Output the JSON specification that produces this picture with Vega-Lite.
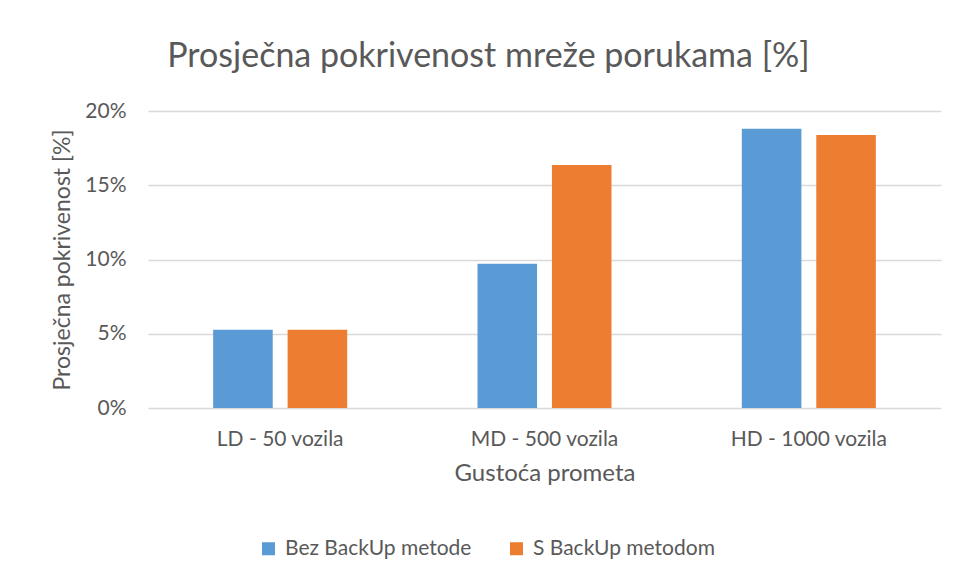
{
  "$schema": "https://vega.github.io/schema/vega-lite/v6.json",
  "width": 793,
  "height": 297,
  "autosize": {"type": "none"},
  "padding": {"left": 148, "top": 111, "right": 16, "bottom": 175},
  "background": "white",
  "title": {
    "text": "Prosječna pokrivenost mreže porukama [%]",
    "font": "Lato",
    "fontSize": 34,
    "fontWeight": "normal",
    "color": "#595959",
    "anchor": "middle",
    "frame": "group",
    "dx": -56,
    "offset": 26
  },
  "data": {
    "values": [
      {"gustoca": "LD - 50 vozila", "metoda": "Bez BackUp metode", "pokrivenost": 0.0527},
      {"gustoca": "LD - 50 vozila", "metoda": "S BackUp metodom", "pokrivenost": 0.0527},
      {"gustoca": "MD - 500 vozila", "metoda": "Bez BackUp metode", "pokrivenost": 0.0971},
      {"gustoca": "MD - 500 vozila", "metoda": "S BackUp metodom", "pokrivenost": 0.1637},
      {"gustoca": "HD - 1000 vozila", "metoda": "Bez BackUp metode", "pokrivenost": 0.188},
      {"gustoca": "HD - 1000 vozila", "metoda": "S BackUp metodom", "pokrivenost": 0.1839}
    ]
  },
  "mark": {"type": "bar"},
  "encoding": {
    "x": {
      "field": "gustoca",
      "type": "nominal",
      "sort": ["LD - 50 vozila", "MD - 500 vozila", "HD - 1000 vozila"],
      "scale": {"paddingInner": 0.493, "paddingOuter": 0.2465},
      "axis": {
        "title": "Gustoća prometa",
        "labelAngle": 0,
        "labelFont": "Lato",
        "labelFontSize": 21,
        "labelColor": "#595959",
        "labelPadding": 20,
        "ticks": false,
        "domain": false,
        "titleFont": "Lato",
        "titleFontSize": 24,
        "titleFontWeight": "normal",
        "titleColor": "#595959",
        "titlePadding": 12
      }
    },
    "xOffset": {
      "field": "metoda",
      "type": "nominal",
      "scale": {"paddingInner": 0.2, "paddingOuter": 0}
    },
    "y": {
      "field": "pokrivenost",
      "type": "quantitative",
      "scale": {"domain": [0, 0.2]},
      "axis": {
        "title": "Prosječna pokrivenost [%]",
        "format": ".0%",
        "values": [0, 0.05, 0.1, 0.15, 0.2],
        "labelFont": "Lato",
        "labelFontSize": 21,
        "labelColor": "#595959",
        "labelPadding": 22,
        "ticks": false,
        "domain": false,
        "grid": true,
        "gridColor": "#D9D9D9",
        "gridWidth": 1.5,
        "titleFont": "Lato",
        "titleFontSize": 23,
        "titleFontWeight": "normal",
        "titleColor": "#595959",
        "titlePadding": 10
      }
    },
    "color": {
      "field": "metoda",
      "type": "nominal",
      "scale": {"domain": ["Bez BackUp metode", "S BackUp metodom"], "range": ["#5B9BD5", "#ED7D31"]},
      "legend": {
        "title": null,
        "orient": "none",
        "legendX": 110,
        "legendY": 427,
        "direction": "horizontal",
        "symbolType": "square",
        "symbolSize": 169,
        "symbolStrokeWidth": 0,
        "labelFont": "Lato",
        "labelFontSize": 21,
        "labelColor": "#595959",
        "labelOffset": 6,
        "labelLimit": 400,
        "columnPadding": 34
      }
    }
  },
  "config": {
    "view": {"stroke": null}
  }
}
